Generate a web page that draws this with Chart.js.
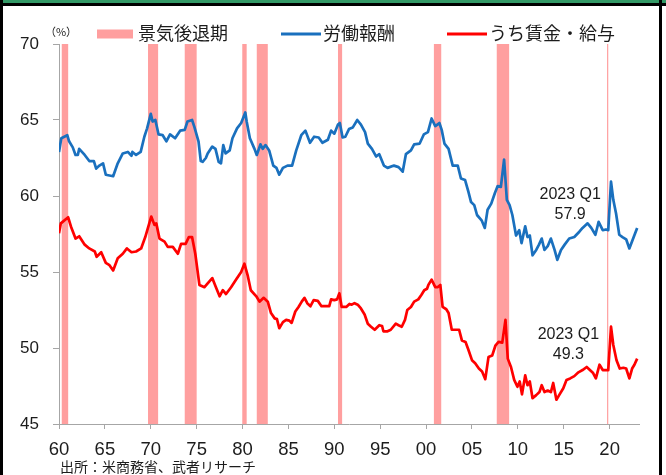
<!DOCTYPE html>
<html>
<head>
<meta charset="utf-8">
<script src="https://cdn.jsdelivr.net/npm/chart.js@4.4.1/dist/chart.umd.min.js"></script>
<style>
html,body{margin:0;padding:0;background:#fff;}
canvas{display:block;}
</style>
</head>
<body>
<canvas id="chart" width="666" height="475"></canvas>
<script>
// 労働報酬（対国民所得比, %）
var compYears = [1960.0,1960.25,1960.9,1961.1,1961.5,1961.8,1962.05,1962.2,1962.8,1963.3,1963.8,1964.05,1964.4,1964.8,1965.1,1965.9,1966.4,1966.95,1967.5,1967.9,1968.0,1968.4,1968.9,1969.3,1969.6,1970.0,1970.2,1970.5,1970.85,1971.3,1971.7,1972.1,1972.65,1973.2,1973.7,1974.0,1974.5,1974.75,1975.2,1975.45,1975.65,1976.0,1976.2,1976.7,1977.05,1977.4,1977.65,1977.9,1978.15,1978.6,1978.9,1979.4,1979.85,1980.3,1980.45,1980.8,1981.3,1981.55,1981.95,1982.2,1982.5,1982.9,1983.35,1983.7,1984.0,1984.4,1984.9,1985.4,1985.85,1986.4,1986.85,1987.35,1987.8,1988.3,1988.7,1989.3,1989.65,1990.0,1990.4,1990.6,1990.9,1991.2,1991.6,1992.0,1992.5,1992.9,1993.35,1993.65,1994.1,1994.55,1994.9,1995.4,1995.8,1996.5,1997.0,1997.45,1997.8,1998.35,1998.7,1999.3,1999.75,2000.2,2000.6,2001.0,2001.45,2001.7,2002.0,2002.45,2002.9,2003.45,2003.8,2004.25,2004.6,2004.9,2005.25,2005.55,2006.05,2006.4,2006.7,2007.1,2007.5,2007.8,2008.15,2008.5,2008.8,2009.1,2009.4,2009.8,2010.15,2010.4,2010.8,2011.05,2011.3,2011.6,2012.0,2012.3,2012.6,2012.9,2013.25,2013.6,2014.0,2014.3,2014.7,2015.1,2015.6,2016.15,2016.7,2017.05,2017.6,2018.0,2018.45,2018.8,2019.25,2019.6,2019.85,2020.15,2020.4,2020.7,2021.05,2021.4,2021.8,2022.15,2022.5,2023.0];
var compValues = [62.9,63.8,64.0,63.6,63.2,62.7,62.7,63.1,62.7,62.3,62.3,61.8,62.0,62.15,61.4,61.3,62.15,62.8,62.9,62.65,62.9,62.7,62.9,63.9,64.45,65.4,64.9,65.0,64.05,64.0,63.6,64.05,63.8,64.3,64.35,64.9,65.0,64.55,63.6,62.3,62.25,62.5,62.8,63.25,63.1,62.25,62.15,63.35,62.8,63.0,63.8,64.45,64.8,65.5,64.9,63.8,63.1,62.7,63.4,63.1,63.35,63.0,62.0,61.85,61.4,61.85,62.0,62.0,63.0,64.0,64.3,63.5,63.9,63.85,63.5,63.7,64.3,64.1,64.7,64.8,63.85,63.9,64.4,64.5,65.0,64.7,64.2,63.45,63.1,62.6,62.75,62.0,61.85,62.0,61.9,61.6,62.75,63.0,63.4,63.45,64.05,64.2,65.1,64.6,64.8,64.35,63.45,63.1,62.0,62.0,61.15,61.05,60.3,59.6,59.4,58.75,58.4,57.9,59.1,59.5,60.2,60.65,60.6,62.4,59.75,59.4,58.75,57.4,57.75,56.9,58.0,57.3,57.4,56.1,56.45,56.8,57.2,56.45,56.7,57.2,56.45,55.8,56.45,56.8,57.2,57.3,57.65,57.9,58.2,57.9,57.45,58.3,57.75,57.8,57.75,60.95,59.75,58.85,57.45,57.3,57.15,56.55,57.1,57.9];

// うち賃金・給与
var wageYears = [1960.0,1960.2,1961.0,1961.3,1961.8,1962.2,1962.8,1963.3,1963.9,1964.1,1964.6,1965.1,1965.5,1965.9,1966.4,1966.95,1967.4,1967.9,1968.4,1968.95,1969.4,1970.05,1970.4,1970.6,1970.95,1971.5,1971.85,1972.4,1972.95,1973.3,1973.8,1974.15,1974.5,1974.85,1975.3,1975.85,1976.2,1976.7,1977.1,1977.5,1977.85,1978.2,1978.75,1979.3,1979.85,1980.2,1980.55,1980.9,1981.5,1981.85,1982.3,1982.75,1983.1,1983.5,1983.75,1984.0,1984.4,1984.75,1985.1,1985.35,1985.75,1986.1,1986.45,1986.75,1987.05,1987.4,1987.75,1988.2,1988.6,1989.1,1989.45,1989.65,1990.0,1990.3,1990.55,1990.8,1991.3,1991.65,1991.9,1992.2,1992.55,1992.9,1993.3,1993.65,1994.0,1994.4,1994.9,1995.2,1995.35,1995.8,1996.15,1996.7,1997.0,1997.35,1997.7,1997.95,1998.35,1998.7,1999.15,1999.5,1999.8,2000.1,2000.25,2000.6,2001.0,2001.25,2001.55,2001.8,2002.2,2002.45,2002.8,2003.25,2003.6,2003.9,2004.3,2004.6,2005.0,2005.35,2005.75,2006.1,2006.45,2006.8,2007.2,2007.55,2007.9,2008.3,2008.65,2008.9,2009.25,2009.6,2009.95,2010.2,2010.45,2010.8,2011.05,2011.3,2011.6,2012.0,2012.35,2012.6,2012.9,2013.25,2013.6,2013.85,2014.2,2014.5,2014.95,2015.3,2015.7,2016.15,2016.6,2017.05,2017.5,2017.85,2018.2,2018.5,2018.9,2019.25,2019.6,2019.85,2020.15,2020.4,2020.75,2021.1,2021.5,2021.8,2022.15,2022.45,2022.7,2023.0];
var wageValues = [57.55,58.2,58.6,58.0,57.2,57.35,56.8,56.55,56.35,56.0,56.3,55.6,55.45,55.1,55.9,56.2,56.55,56.3,56.35,56.55,57.3,58.65,58.1,58.2,57.2,57.0,56.65,56.65,56.2,56.85,56.85,57.3,57.3,56.2,54.15,54.0,54.25,54.6,54.0,53.4,53.8,53.55,54.0,54.5,55.0,55.55,54.8,53.8,53.4,53.05,53.3,53.05,52.3,51.95,51.9,51.3,51.7,51.85,51.8,51.65,52.4,52.7,53.05,53.3,52.95,52.75,53.15,53.1,52.75,52.75,52.75,53.2,53.15,53.2,53.6,52.7,52.7,52.9,52.85,52.95,52.85,52.6,52.2,51.6,51.4,51.2,51.5,51.45,51.1,51.1,51.2,51.6,51.5,51.4,51.85,52.5,52.7,53.05,53.2,53.5,53.8,53.9,54.15,54.5,54.0,54.0,54.15,52.7,52.55,52.3,51.2,51.2,51.2,50.5,50.4,49.9,49.2,49.0,48.65,48.45,47.95,49.4,49.5,50.15,50.4,50.35,51.85,49.3,48.75,47.9,47.45,47.8,46.95,48.2,47.55,47.8,46.7,46.9,47.1,47.55,47.1,47.2,47.1,47.7,46.6,46.9,47.35,47.9,48.0,48.15,48.4,48.55,48.75,48.55,48.35,48.0,48.9,48.55,48.55,48.55,51.4,50.2,49.2,48.65,48.7,48.65,48.0,48.65,48.9,49.3];

// 景気後退期（年）
var recessionStart = [1960.3,1969.7,1973.7,1979.97,1981.55,1990.4,2000.85,2007.7,2019.72];
var recessionEnd   = [1961.0,1970.8,1975.0,1980.45,1982.75,1990.85,2001.65,2009.05,2019.85];

var xTickLabels = ['60','65','70','75','80','85','90','95','00','05','10','15','20'];
var yTicks = [45,50,55,60,65,70];

var recessionLabel = '景気後退期';
var lastQuarter = '2023 Q1';
var sourceNote = '出所：米商務省、武者リサーチ';

var pink = '#ff9f9f';
var axisGrey = '#a6a6a6';
var textColor = '#1c1c1c';
var jpFont = "'Noto Sans CJK JP', sans-serif";

function toPoints(xs, ys){
	var out = [];
	for (var i = 0; i < xs.length; i++){
		out.push({x: xs[i], y: ys[i]});
	}
	return out;
}

var framePlugin = {
	id: 'frame',
	beforeDraw: function(chart){
		var ctx = chart.ctx, area = chart.chartArea, xs = chart.scales.x;
		ctx.save();
		ctx.fillStyle = '#fff';
		ctx.fillRect(0, 0, chart.width, chart.height);
		// recession shading
		ctx.fillStyle = pink;
		for (var i = 0; i < recessionStart.length; i++){
			var x1 = xs.getPixelForValue(recessionStart[i]);
			var x2 = xs.getPixelForValue(recessionEnd[i]);
			ctx.fillRect(x1, area.top, Math.max(x2 - x1, 1), area.bottom - area.top);
		}
		// outer frame
		ctx.fillStyle = '#339966';
		ctx.fillRect(0, 0, chart.width, 3);
		ctx.fillStyle = '#000';
		ctx.fillRect(0, 3, chart.width, 3);
		ctx.fillRect(0, 0, 3, chart.height);
		ctx.fillRect(659, 0, 3, chart.height);
		ctx.restore();
	},
	afterDraw: function(chart){
		var ctx = chart.ctx, xs = chart.scales.x, ys = chart.scales.y;
		var ds = chart.data.datasets;
		ctx.save();
		// legend
		var legendY = 34;
		ctx.font = '18px ' + jpFont;
		ctx.textBaseline = 'middle';
		ctx.textAlign = 'left';
		ctx.fillStyle = pink;
		ctx.fillRect(97, legendY - 4.5, 36, 9);
		ctx.fillStyle = textColor;
		ctx.fillText(recessionLabel, 138, legendY - 1);
		var lx = [281, 447];
		for (var i = 0; i < ds.length; i++){
			ctx.strokeStyle = ds[i].borderColor;
			ctx.lineWidth = 3;
			ctx.beginPath();
			ctx.moveTo(lx[i], legendY);
			ctx.lineTo(lx[i] + 40, legendY);
			ctx.stroke();
			ctx.fillStyle = textColor;
			ctx.fillText(ds[i].label, lx[i] + 42, legendY - 1);
		}
		// unit
		ctx.font = '11px ' + jpFont;
		ctx.textAlign = 'center';
		ctx.fillText('（%）', 61, 32);
		// last value notes
		ctx.font = "16px 'Liberation Sans', Arial, sans-serif";
		var notes = [
			{x: 2015.7, y: 60.1, value: compValues[compValues.length - 1]},
			{x: 2015.5, y: 50.9, value: wageValues[wageValues.length - 1]}
		];
		notes.forEach(function(n){
			var px = xs.getPixelForValue(n.x), py = ys.getPixelForValue(n.y);
			ctx.fillText(lastQuarter, px, py);
			ctx.fillText(n.value.toFixed(1), px, py + 20);
		});
		// source
		ctx.font = '14px ' + jpFont;
		ctx.textAlign = 'left';
		ctx.fillText(sourceNote, 60, 467);
		ctx.restore();
	}
};

new Chart(document.getElementById('chart'), {
	type: 'line',
	data: {
		datasets: [{
			label: '労働報酬',
			data: toPoints(compYears, compValues),
			borderColor: '#1a70be',
			borderWidth: 2.7,
			pointRadius: 0,
			tension: 0,
			borderJoinStyle: 'round',
			fill: false
		}, {
			label: 'うち賃金・給与',
			data: toPoints(wageYears, wageValues),
			borderColor: '#ff0000',
			borderWidth: 2.7,
			pointRadius: 0,
			tension: 0,
			borderJoinStyle: 'round',
			fill: false
		}]
	},
	options: {
		responsive: false,
		animation: false,
		devicePixelRatio: 1,
		layout: {padding: {top: 44, right: 27, left: 0, bottom: 0}},
		plugins: {legend: {display: false}, tooltip: {enabled: false}},
		scales: {
			x: {
				type: 'linear',
				min: 1960,
				max: 2023.2,
				afterFit: function(s){ s.height = 51; },
				grid: {drawOnChartArea: false, drawTicks: true, tickLength: 5, color: axisGrey},
				border: {color: axisGrey},
				ticks: {
					stepSize: 5,
					includeBounds: false,
					autoSkip: false,
					maxRotation: 0,
					padding: 10,
					color: textColor,
					font: {family: "'Liberation Sans', Arial, sans-serif", size: 18.5},
					callback: function(v, i){ return xTickLabels[i]; }
				}
			},
			y: {
				min: yTicks[0],
				max: yTicks[yTicks.length - 1],
				afterFit: function(s){ s.width = 59; },
				grid: {drawOnChartArea: false, drawTicks: true, tickLength: 6, color: axisGrey},
				border: {color: axisGrey},
				ticks: {
					stepSize: 5,
					padding: 14,
					color: textColor,
					font: {family: "'Liberation Sans', Arial, sans-serif", size: 17}
				}
			}
		}
	},
	plugins: [framePlugin]
});
</script>
</body>
</html>
